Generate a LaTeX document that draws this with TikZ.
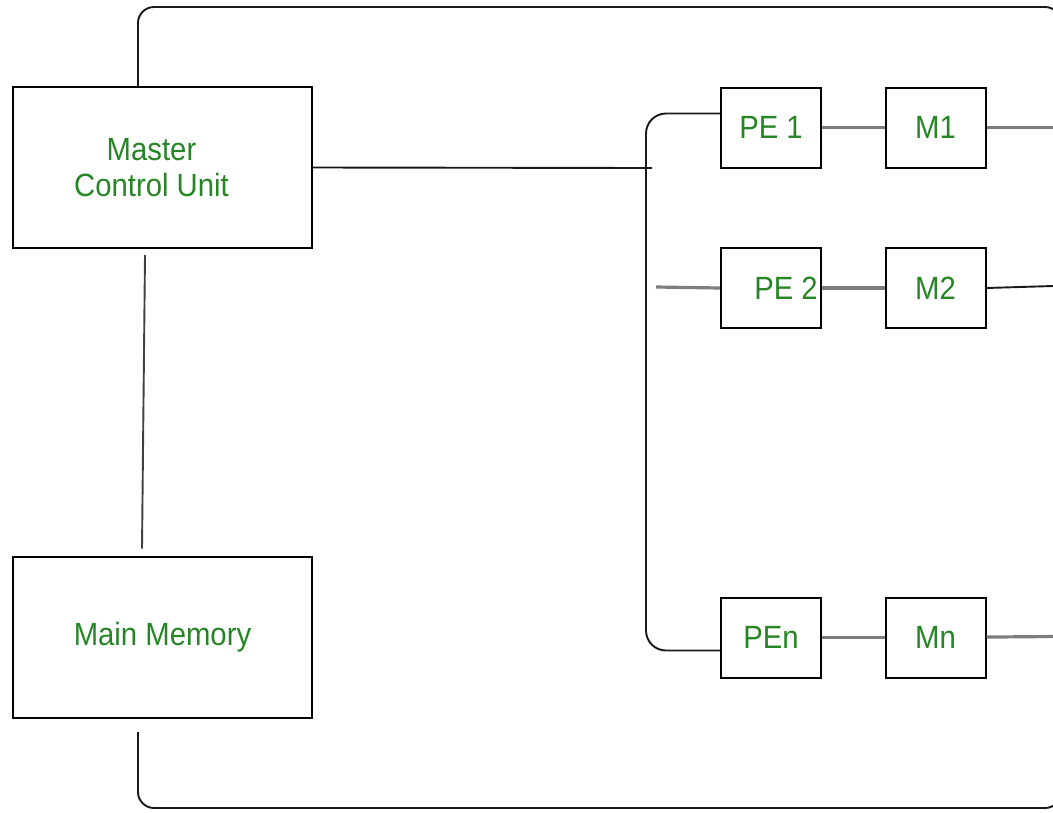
\documentclass[tikz,border=0pt]{standalone}
\usepackage{fontspec}
\setmainfont{Liberation Sans}
\usetikzlibrary{calc}
\definecolor{lbl}{RGB}{38,134,38}
\definecolor{wire}{RGB}{125,125,125}
\definecolor{rail}{RGB}{25,25,25}
% slightly tall lettering for the block labels
\newcommand{\talltext}[1]{\scalebox{1.01}[1.11]{#1}}
\tikzset{
  blk/.style={draw=black, line width=2pt, inner sep=0pt, text=lbl,
    font=\fontsize{29}{36}\selectfont, align=center},
  bigblk/.style={blk, minimum width=299pt, minimum height=161pt},
  unit/.style={blk, minimum width=100pt, minimum height=80pt},
  link/.style={draw=wire, line width=3.2pt},
  thin/.style={draw=rail, line width=1.9pt},
}
\begin{document}
\begin{tikzpicture}[x=1pt,y=-1pt]
\useasboundingbox (0,0) rectangle (1053,812);
\clip (0,0) rectangle (1053,812);

% controller and memory
\node[bigblk] (mcu) at (162.5,167.5) {\talltext{Master}\hspace*{22pt}\\\talltext{Control Unit}\hspace*{22pt}};
\node[bigblk] (mm)  at (162.5,637)   {\talltext{Main Memory}};

% processing elements with their local memories
\node[unit] (pe1) at (771,127.5) {\talltext{PE 1}};
\node[unit] (m1)  at (935.5,127.5) {\talltext{M1}};
\node[unit] (pe2) at (771,288) {\hspace*{30pt}\talltext{PE 2}};
\node[unit] (m2)  at (935.5,288) {\talltext{M2}};
\node[unit] (pen) at (771,637.5) {\talltext{PEn}};
\node[unit] (mn)  at (935.5,637.5) {\talltext{Mn}};

% free line ends
\coordinate (busjoin) at (652,168);
\coordinate (pe2in) at (656,287);
\coordinate (m1out) at (1053,127.5);
\coordinate (m2out) at (1053,286);
\coordinate (mnout) at (1053,636.5);
\coordinate (loopend) at (138,732);

% broadcast bus feeding the PEs
\draw[thin] (mcu.east) -- (busjoin);
\draw[thin, rounded corners=20pt] ($(pe1.west)+(0,-14)$) -| (646,400) |- ($(pen.west)+(0,13)$);
\draw[link] (pe2in) -- (pe2.west);

% PE to local memory links
\draw[link] (pe1) -- (m1);
\draw[link] (pe2) -- (m2);
\draw[link] (pen) -- (mn);
\draw[link] (m1) -- (m1out);
\draw[thin] (m2.east) -- (m2out);
\draw[link] (mn) -- (mnout);

% controller to main memory
\draw[thin, draw=black!75] ($(mcu.south)+(-17.5,6)$) -- ($(mm.north)+(-20.5,-7)$);

% outer data loop
\draw[thin, rounded corners=16pt] (mcu.north -| loopend) -- (138,7) -- (1061,7) -- (1061,808) -- (138,808) -- (loopend);
\end{tikzpicture}
\end{document}
